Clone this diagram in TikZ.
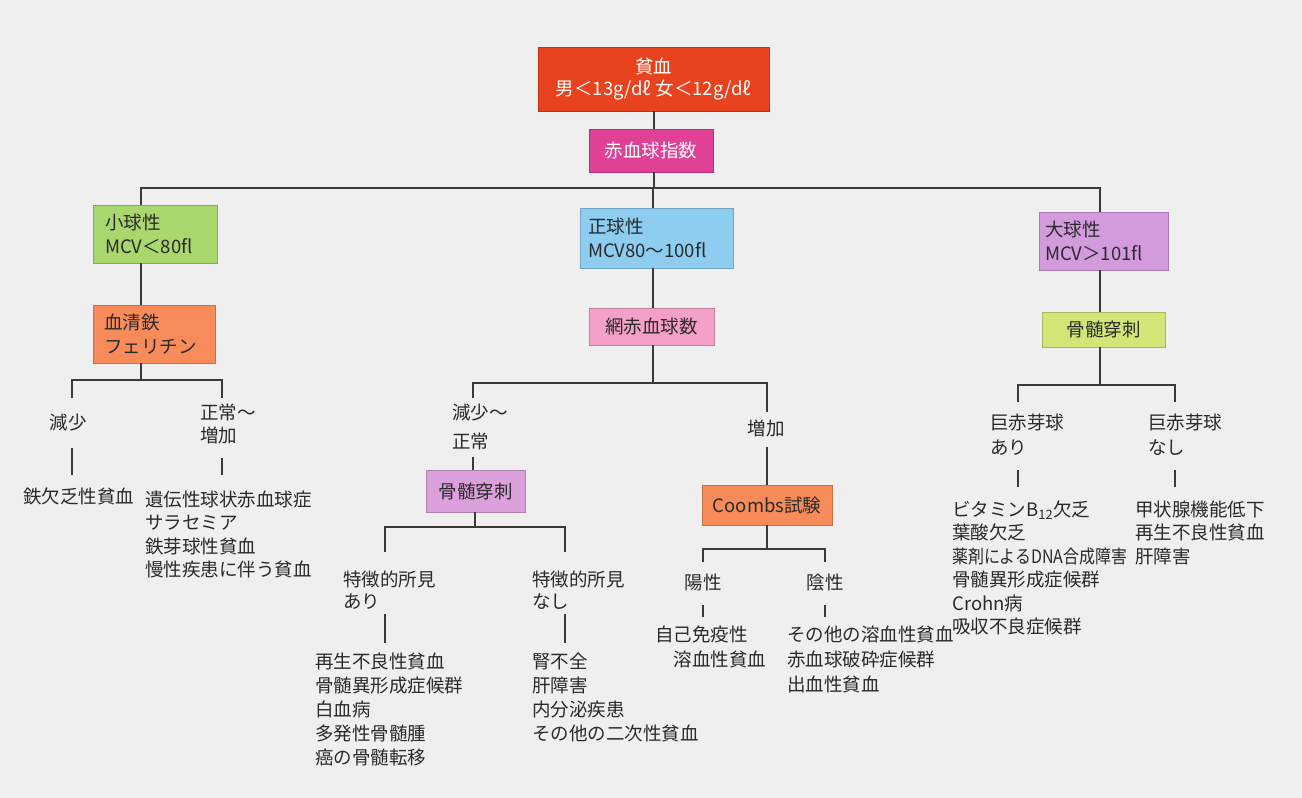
\documentclass[tikz,border=0pt]{standalone}
\usepackage{fontspec}
\newfontfamily\jp{Noto Sans CJK JP}
\definecolor{bgc}{HTML}{EFEFEF}
\definecolor{ink}{HTML}{2A2A2A}
\definecolor{lnc}{HTML}{3A3A3A}
\definecolor{cred}{HTML}{E8421E}
\definecolor{cmag}{HTML}{E04096}
\definecolor{cgrn}{HTML}{AAD66E}
\definecolor{csal}{HTML}{F78C5A}
\definecolor{cblu}{HTML}{8CCDF0}
\definecolor{cpnk}{HTML}{F5A0C8}
\definecolor{clil}{HTML}{DCA0DC}
\definecolor{cvio}{HTML}{D49ADE}
\definecolor{cyel}{HTML}{D2E678}
\begin{document}
\begin{tikzpicture}[x=1pt,y=-1pt,
  font=\jp\fontsize{18.5}{23.5}\selectfont,
  box/.style={draw=#1!80!black, fill=#1, line width=0.6pt, inner sep=0pt, text=ink},
  lbl/.style={inner sep=0pt, text=ink, align=left},
  conn/.style={draw=lnc, line width=1.4pt}]
\useasboundingbox (0,0) rectangle (1302,798);
\fill[bgc] (0,0) rectangle (1302,798);

% ---------- boxes ----------
\node[box=cred, text=white, minimum width=231pt, minimum height=64pt, align=center] (anemia) at (653.5,79) {貧血\\[-1pt]男＜13g/dℓ 女＜12g/dℓ};
\node[box=cmag, text=white, minimum width=124pt, minimum height=43pt] (rbcidx) at (651,150.5) {赤血球指数};

\node[box=cgrn, minimum width=124pt, minimum height=58pt, text width=100pt, align=left] (micro) at (155,234) {小球性\\MCV＜80fl};
\node[box=cblu, minimum width=153pt, minimum height=60pt, text width=137pt, align=left] (normo) at (656.5,238) {正球性\\MCV80〜100fl};
\node[box=cvio, minimum width=129pt, minimum height=58pt, text width=117pt, align=left] (macro) at (1103.5,241) {大球性\\MCV＞101fl};

\node[box=csal, minimum width=122pt, minimum height=58pt, text width=100pt, align=left] (serum) at (154,334) {血清鉄\\フェリチン};
\node[box=cpnk, minimum width=125pt, minimum height=37pt] (retic) at (651.5,326.5) {網赤血球数};
\node[box=cyel, minimum width=123pt, minimum height=35pt] (bmr) at (1103.5,329.5) {骨髄穿刺};

\node[box=clil, minimum width=99pt, minimum height=42pt] (bmm) at (475.5,491) {骨髄穿刺};
\node[box=csal, minimum width=130pt, minimum height=40pt] (coombs) at (767,505) {Coombs試験};

% ---------- junction coordinates ----------
\coordinate (jTop) at (654,188);
\coordinate (xL) at (141,0);
\coordinate (xM) at (653,0);
\coordinate (xR) at (1100,0);

% ---------- labels / lists : microcytic ----------
\node[lbl, anchor=center] (dec1) at (68,422) {減少};
\node[lbl, anchor=north west] (nrm1) at (200,403.5) {正常〜\\増加};
\node[lbl, anchor=west] (ida) at (23,496) {鉄欠乏性貧血};
\node[lbl, anchor=north west, font=\jp\fontsize{18.5}{23.4}\selectfont] (lst1) at (145,490.5) {遺伝性球状赤血球症\\サラセミア\\鉄芽球性貧血\\慢性疾患に伴う貧血};

% ---------- normocytic ----------
\node[lbl, anchor=north west, font=\jp\fontsize{18.5}{29}\selectfont] (dec2) at (452,403.5) {減少〜\\正常};
\node[lbl, anchor=center] (inc2) at (766,428) {増加};
\node[lbl, anchor=north west, font=\jp\fontsize{18.5}{22}\selectfont] (fy) at (343,570.5) {特徴的所見\\あり};
\node[lbl, anchor=north west, font=\jp\fontsize{18.5}{22}\selectfont] (fn) at (532,570.5) {特徴的所見\\なし};
\node[lbl, anchor=north west, font=\jp\fontsize{18.5}{24}\selectfont] (lst2) at (315,652.5) {再生不良性貧血\\骨髄異形成症候群\\白血病\\多発性骨髄腫\\癌の骨髄転移};
\node[lbl, anchor=north west, font=\jp\fontsize{18.5}{24}\selectfont] (lst3) at (532,652.5) {腎不全\\肝障害\\内分泌疾患\\その他の二次性貧血};
\node[lbl, anchor=center] (pos) at (703,582) {陽性};
\node[lbl, anchor=center] (neg) at (825,582) {陰性};
\node[lbl, anchor=north west, font=\jp\fontsize{18.5}{25}\selectfont] (lst4) at (655,625.5) {自己免疫性\\\hspace*{1em}溶血性貧血};
\node[lbl, anchor=north west, font=\jp\fontsize{18.5}{25}\selectfont] (lst5) at (787,625.5) {その他の溶血性貧血\\赤血球破砕症候群\\出血性貧血};

% ---------- macrocytic ----------
\node[lbl, anchor=north west, font=\jp\fontsize{18.5}{25}\selectfont] (mgy) at (990,413.5) {巨赤芽球\\あり};
\node[lbl, anchor=north west, font=\jp\fontsize{18.5}{25}\selectfont] (mgn) at (1148,413.5) {巨赤芽球\\なし};
\node[lbl, anchor=north west, font=\jp\fontsize{18.5}{23.4}\selectfont] (lst6) at (952,500.5) {ビタミンB\textsubscript{12}欠乏\\葉酸欠乏\\\scalebox{0.86}[1]{薬剤によるDNA合成障害}\\骨髄異形成症候群\\Crohn病\\吸収不良症候群};
\node[lbl, anchor=north west, font=\jp\fontsize{18.5}{23.4}\selectfont] (lst7) at (1135,500.5) {甲状腺機能低下\\再生不良性貧血\\肝障害};

% ---------- connectors : top ----------
\draw[conn] (anemia.south -| jTop) -- (rbcidx.north -| jTop);
\draw[conn] (rbcidx.south -| jTop) -- (jTop);
\draw[conn] (micro.north -| xL) |- (jTop) -| (macro.north -| xR);
\draw[conn] (jTop -| xM) -- (normo.north -| xM);

% micro branch
\coordinate (j2) at (141,380);
\draw[conn] (micro.south -| xL) -- (serum.north -| xL);
\draw[conn] (serum.south -| xL) -- (j2);
\draw[conn] (72,398) |- (j2) -| (222,398);
\draw[conn] (72,448) -- (72,475);
\draw[conn] (222,458) -- (222,475);

% normo branch
\coordinate (j3) at (653,383);
\draw[conn] (normo.south -| xM) -- (retic.north -| xM);
\draw[conn] (retic.south -| xM) -- (j3);
\draw[conn] (473,398) |- (j3) -| (767,412);
\draw[conn] (473,457) -- (bmm.north -| 473,0);
\draw[conn] (767,447) -- (coombs.north -| 767,0);

% bone marrow (middle)
\coordinate (j4) at (475,527);
\draw[conn] (bmm.south -| j4) -- (j4);
\draw[conn] (385,552) |- (j4) -| (565,552);
\draw[conn] (385,614) -- (385,643);
\draw[conn] (565,614) -- (565,643);

% coombs
\coordinate (j5) at (767,549);
\draw[conn] (coombs.south -| j5) -- (j5);
\draw[conn] (703,562) |- (j5) -| (825,562);
\draw[conn] (703,605) -- (703,617);
\draw[conn] (825,605) -- (825,617);

% macro branch
\coordinate (j6) at (1100,385);
\draw[conn] (macro.south -| xR) -- (bmr.north -| xR);
\draw[conn] (bmr.south -| xR) -- (j6);
\draw[conn] (1018,402) |- (j6) -| (1175,402);
\draw[conn] (1018,470) -- (1018,487);
\draw[conn] (1175,470) -- (1175,487);
\end{tikzpicture}
\end{document}
